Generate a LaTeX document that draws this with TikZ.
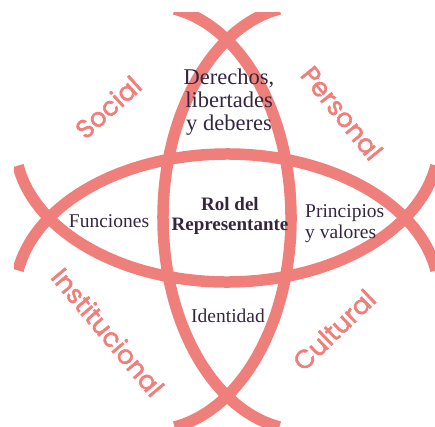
\documentclass[tikz,border=0pt]{standalone}
\usepackage{fontspec}
\setmainfont{Liberation Serif}
\newfontfamily\sphfont{Poppins}[FakeBold=2]
\usepackage{xcolor}
\definecolor{coral}{HTML}{EF7F7A}
\definecolor{plum}{HTML}{35263F}
\tikzset{
  lens/.style={draw=coral, line width=11.5pt},
  field/.style={text=plum, align=center, inner sep=0pt, font=\fontsize{19.5}{21}\selectfont},
  sphere/.style={text=coral, inner sep=0pt, font=\sphfont\fontsize{26}{26}\selectfont},
}

\begin{document}
\begin{tikzpicture}[x=1pt,y=1pt]

  \useasboundingbox (0,0) rectangle (435,426);

  % centres of the four elliptic arcs
  \coordinate (El) at (303,208);
  \coordinate (Er) at (151,208);
  \coordinate (Et) at (227,132);
  \coordinate (Eb) at (227,284);

  \begin{scope}
    \clip (14,0) rectangle (435,413);
    \draw[lens] (El) ++(99.7:140 and 212) arc[start angle=99.7, end angle=260.3, x radius=140, y radius=212];
    \draw[lens] (Er) ++(-80.3:140 and 212) arc[start angle=-80.3, end angle=80.3, x radius=140, y radius=212];
    \draw[lens] (Et) ++(9.7:212 and 140) arc[start angle=9.7, end angle=170.3, x radius=212, y radius=140];
    \draw[lens] (Eb) ++(189.7:212 and 140) arc[start angle=189.7, end angle=350.3, x radius=212, y radius=140];
  \end{scope}

  \node[field, font=\fontsize{22.5}{23}\selectfont] (derechos) at (229,324) {Derechos,\\libertades\\y deberes};
  \node[field, font=\bfseries\fontsize{19}{20}\selectfont] (rol) at (230,210) {Rol del\\Representante};
  \node[field] (funciones) at (109,205) {Funciones};
  \node[field, align=left, anchor=west] (principios) at (305,202) {Principios\\y valores};
  \node[field] (identidad) at (228,110) {Identidad};

  \node[sphere, rotate=42] (social) at (108,319) {Social};
  \node[sphere, rotate=-51] (personal) at (342,313) {Personal};
  \node[sphere, rotate=-50] (institucional) at (108,94) {Institucional};
  \node[sphere, rotate=44] (cultural) at (334,96) {Cultural};

\end{tikzpicture}
\end{document}
